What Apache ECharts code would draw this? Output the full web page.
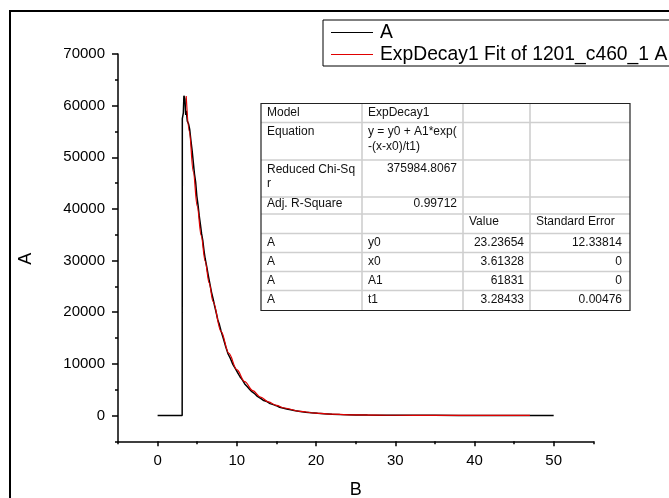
<!DOCTYPE html>
<html>
<head>
<meta charset="utf-8">
<script src="https://cdn.jsdelivr.net/npm/echarts@6/dist/echarts.min.js"></script>
<style>
html,body{margin:0;padding:0;background:#fff;}
#chart{width:669px;height:498px;}
</style>
</head>
<body>
<div id="chart"></div>
<script>
// ---- data ----
const xMajorTicks = [0, 10, 20, 30, 40, 50];
const xMinorTicks = [-5, 5, 15, 25, 35, 45, 55];
const yMajorTicks = [0, 10000, 20000, 30000, 40000, 50000, 60000, 70000];
const yMinorTicks = [-5000, 5000, 15000, 25000, 35000, 45000, 55000, 65000];

const measuredX = [0, 3.1, 3.12, 3.2, 3.25, 3.32, 3.45, 3.55, 3.62, 3.75, 3.9, 4.05, 4.2, 4.35, 4.5, 4.65, 4.8, 4.95, 5.1, 5.25, 5.4, 5.55, 5.7, 5.85, 6.0, 6.2, 6.4, 6.6, 6.8, 7.0, 7.2, 7.4, 7.6, 7.8, 8.0, 8.3, 8.6, 8.9, 9.2, 9.5, 9.8, 10.1, 10.4, 10.7, 11.0, 11.3, 11.6, 11.9, 12.2, 12.6, 13.0, 13.4, 13.8, 14.2, 14.6, 15.0, 15.4, 15.8, 16.3, 16.8, 17.4, 18.0, 18.7, 19.4, 20.2, 21.0, 22.0, 23.0, 24.0, 25.0, 26.5, 28.0, 30.0, 32.0, 35.0, 38.0, 41.0, 44.0, 47.0, 50.0];
const measuredY = [0, 0, 57500, 57800, 58600, 61900, 61300, 58200, 59000, 57000, 56500, 55400, 53300, 51400, 49100, 46800, 45200, 42500, 40800, 38700, 37000, 35200, 33900, 32000, 30400, 28800, 27100, 25500, 23900, 22600, 21200, 19900, 18500, 17600, 16400, 14900, 13300, 11900, 11000, 9900, 9100, 8300, 7500, 6900, 6100, 5600, 5100, 4600, 4300, 3700, 3300, 2900, 2700, 2300, 2100, 1900, 1600, 1450, 1250, 1100, 900, 780, 640, 520, 420, 340, 260, 190, 150, 110, 80, 60, 40, 30, 25, 20, 15, 10, 8, 0];

const fitX = [3.61, 4.0, 4.5, 5.0, 5.5, 6.0, 6.5, 7.0, 8.0, 9.0, 10.0, 11.0, 12.0, 13.0, 14.0, 15.0, 16.0, 18.0, 20.0, 22.0, 25.0, 30.0, 35.0, 40.0, 47.0];
const fitY = [61850, 54985, 47220, 40560, 34830, 29910, 25690, 22070, 16280, 12010, 8865, 6545, 4830, 3570, 2640, 1950, 1445, 795, 445, 250, 115, 45, 27, 24, 23];

const seriesNames = ['A', 'ExpDecay1 Fit of 1201_c460_1 A'];

const tableRows = [
  ['Model', 'ExpDecay1', '', ''],
  ['Equation', 'y = y0 + A1*exp(\n-(x-x0)/t1)', '', ''],
  ['Reduced Chi-Sq\nr', '375984.8067', '', ''],
  ['Adj. R-Square', '0.99712', '', ''],
  ['', '', 'Value', 'Standard Error'],
  ['A', 'y0', '23.23654', '12.33814'],
  ['A', 'x0', '3.61328', '0'],
  ['A', 'A1', '61831', '0'],
  ['A', 't1', '3.28433', '0.00476']
];
const tableRightAligned = [
  [false, false, false, false],
  [false, false, false, false],
  [false, true, false, false],
  [false, true, false, false],
  [false, false, false, false],
  [false, false, true, true],
  [false, false, true, true],
  [false, false, true, true],
  [false, false, true, true]
];

// ---- build ----
const FONT = 'Liberation Sans, Arial, sans-serif';
const measured = measuredX.map((x, i) => [x, measuredY[i]]);
const fit = fitX.map((x, i) => [x, fitY[i]]);

// table geometry (annotation box)
const colEdges = [261, 362, 463, 530, 630];
const rowEdges = [103.5, 122.5, 160, 197, 214, 233.5, 252.5, 271.5, 290.5, 310.5];
const rowTextOffset = [9, 9, 9, 7, 8, 9, 9, 9, 9.5];

const tableChildren = [];
for (let r = 1; r < rowEdges.length - 1; r++) {
  tableChildren.push({type: 'line', shape: {x1: colEdges[0], y1: rowEdges[r], x2: colEdges[4], y2: rowEdges[r]},
    style: {stroke: '#cfcfcf', lineWidth: 1.6}});
}
for (let c = 1; c < colEdges.length - 1; c++) {
  tableChildren.push({type: 'line', shape: {x1: colEdges[c], y1: rowEdges[0], x2: colEdges[c], y2: rowEdges[rowEdges.length - 1]},
    style: {stroke: '#cfcfcf', lineWidth: 1.6}});
}
tableChildren.push({type: 'rect', shape: {x: colEdges[0], y: rowEdges[0], width: colEdges[4] - colEdges[0], height: rowEdges[rowEdges.length - 1] - rowEdges[0]},
  style: {fill: null, stroke: '#222', lineWidth: 1.2}});
tableRows.forEach((row, r) => {
  row.forEach((txt, c) => {
    if (!txt) return;
    const right = tableRightAligned[r][c];
    const multi = txt.indexOf('\n') >= 0;
    tableChildren.push({
      type: 'text',
      style: {
        text: txt,
        x: right ? colEdges[c + 1] - (c === 3 ? 8 : 6) : colEdges[c] + 6,
        y: multi ? rowEdges[r] + 2 : rowEdges[r] + rowTextOffset[r],
        align: right ? 'right' : 'left',
        verticalAlign: multi ? 'top' : 'middle',
        lineHeight: 14.5,
        font: '12px ' + FONT,
        fill: '#111'
      }
    });
  });
});

const plainNum = v => String(v);

const chart = echarts.init(document.getElementById('chart'), null, {renderer: 'canvas'});
chart.setOption({
  animation: false,
  backgroundColor: '#fff',
  grid: {left: 118, right: 75.7, top: 54, bottom: 56.7, containLabel: false, outerBoundsMode: 'none'},
  legend: {
    orient: 'vertical', left: 323, top: 20,
    padding: [3, 30, 2, 8], itemGap: 3,
    borderColor: '#000', borderWidth: 1,
    icon: 'rect', itemWidth: 42, itemHeight: 1.2,
    textStyle: {fontFamily: FONT, fontSize: 19.3, color: '#000', padding: [0, 0, 0, 2]},
    data: seriesNames
  },
  xAxis: [{
    type: 'value', min: -5, max: 55,
    name: 'B', nameLocation: 'middle', nameGap: 40,
    nameTextStyle: {fontFamily: FONT, fontSize: 18, color: '#000'},
    axisLine: {show: true, onZero: false, lineStyle: {color: '#000', width: 1.5}},
    axisTick: {show: true, customValues: xMajorTicks, length: 5, lineStyle: {color: '#000', width: 1.5}},
    axisLabel: {customValues: xMajorTicks, formatter: plainNum, fontFamily: FONT, fontSize: 15, color: '#000', margin: 12},
    splitLine: {show: false}
  }, {
    type: 'value', min: -5, max: 55, position: 'bottom',
    axisLine: {show: false, onZero: false},
    axisTick: {show: true, customValues: xMinorTicks, length: 3, lineStyle: {color: '#000', width: 1.5}},
    axisLabel: {show: false},
    splitLine: {show: false}
  }],
  yAxis: [{
    type: 'value', min: -5000, max: 70000,
    name: 'A', nameLocation: 'middle', nameGap: 83,
    nameTextStyle: {fontFamily: FONT, fontSize: 18, color: '#000', padding: [0, 22, 0, 0]},
    axisLine: {show: true, onZero: false, lineStyle: {color: '#000', width: 1.5}},
    axisTick: {show: true, customValues: yMajorTicks, length: 6, lineStyle: {color: '#000', width: 1.5}},
    axisLabel: {customValues: yMajorTicks, formatter: plainNum, fontFamily: FONT, fontSize: 15, color: '#000', margin: 13},
    splitLine: {show: false}
  }, {
    type: 'value', min: -5000, max: 70000, position: 'left',
    axisLine: {show: false, onZero: false},
    axisTick: {show: true, customValues: yMinorTicks, length: 3, lineStyle: {color: '#000', width: 1.5}},
    axisLabel: {show: false},
    splitLine: {show: false}
  }],
  series: [{
    name: seriesNames[0], type: 'line', data: measured,
    showSymbol: false, symbol: 'none',
    color: '#000', lineStyle: {color: '#000', width: 1.5}
  }, {
    name: seriesNames[1], type: 'line', data: fit,
    showSymbol: false, symbol: 'none', smooth: 0.35, smoothMonotone: 'x',
    color: '#e00000', lineStyle: {color: '#e00000', width: 1.2}
  }],
  graphic: [{
    type: 'rect', silent: true,
    shape: {x: 10, y: 11, width: 700, height: 600},
    style: {fill: null, stroke: '#000', lineWidth: 2}
  }, {
    type: 'group', silent: true, children: tableChildren
  }]
});
</script>
</body>
</html>
